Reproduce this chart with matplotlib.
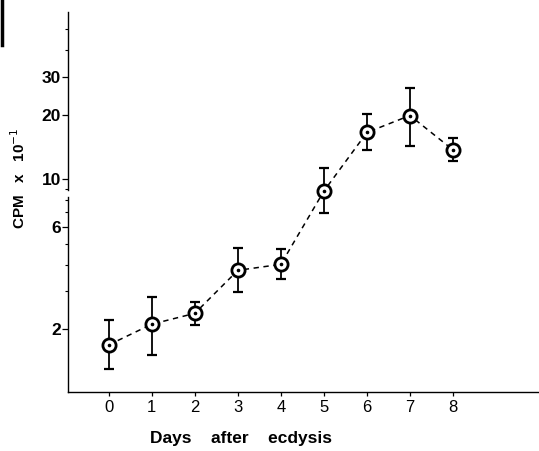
import matplotlib
matplotlib.use('Agg')
from matplotlib import pyplot as plt
from matplotlib.ticker import FixedLocator, NullFormatter
import numpy as np

plt.rcParams['font.family'] = ['Liberation Sans', 'DejaVu Sans']

# Counts per minute (x 10^-1) by day after ecdysis, with error bar limits
days = [0, 1, 2, 3, 4, 5, 6, 7, 8]
cpm = [1.69, 2.11, 2.37, 3.76, 4.01, 8.8, 16.5, 19.8, 13.7]
cpm_high = [2.2, 2.82, 2.67, 4.76, 4.71, 11.3, 20.2, 26.7, 15.6]
cpm_low = [1.30, 1.51, 2.09, 2.97, 3.42, 6.94, 13.7, 14.3, 12.1]

y_major = [2, 6, 10, 20, 30]
y_minor = [3, 4, 5, 7, 8, 9, 40, 50]

cpm = np.array(cpm)
yerr = [cpm - np.array(cpm_low), np.array(cpm_high) - cpm]

fig = plt.figure(figsize=(5.39, 4.51), dpi=100)
ax = fig.add_axes([0.126, 0.131, 0.874, 0.842])

ax.errorbar(days, cpm, yerr=yerr, fmt='none', ecolor='black',
            elinewidth=1.3, capsize=3.5, capthick=1.6, zorder=2)
ax.plot(days, cpm, linestyle=(0, (3.5, 3)), color='black', linewidth=1.1, zorder=1)
ax.plot(days, cpm, linestyle='none', marker='o', markersize=9.5,
        markerfacecolor='white', markeredgecolor='black',
        markeredgewidth=2.0, zorder=3)
ax.plot(days, cpm, linestyle='none', marker='o', markersize=1.6,
        color='black', zorder=4)

ax.set_yscale('log')
ax.set_ylim(1.02, 60)
ax.set_xlim(-0.95, 10)

ax.yaxis.set_major_locator(FixedLocator(y_major))
ax.yaxis.set_minor_locator(FixedLocator(y_minor))
ax.yaxis.set_minor_formatter(NullFormatter())
ax.set_yticklabels([str(v) for v in y_major], fontsize=12.5, fontweight='bold')
ax.set_xticks(days)
ax.set_xticklabels([str(d) for d in days], fontsize=12)

ax.tick_params(axis='y', which='major', direction='out', length=4, width=0.9, pad=1)
ax.tick_params(axis='y', which='minor', direction='out', length=2.5, width=0.8)
ax.tick_params(axis='x', direction='out', length=3, width=0.9, pad=3)

for side in ['top', 'right', 'left']:
    ax.spines[side].set_visible(False)
ax.spines['bottom'].set_linewidth(1.0)

# left axis drawn in two pieces with a break just under 10
ytr = ax.get_yaxis_transform()
ax.plot([0, 0], [1.02, 8.3], color='black', linewidth=1.0, transform=ytr, clip_on=False)
ax.plot([0, 0], [8.9, 60], color='black', linewidth=1.0, transform=ytr, clip_on=False)

ax.set_xlabel('Days    after    ecdysis', fontsize=12.5, fontweight='bold')
ax.xaxis.set_label_coords(0.367, -0.102)
ax.set_ylabel('CPM   x   10$^{-1}$', fontsize=11, fontweight='bold')
ax.yaxis.set_label_coords(-0.084, 0.562)

# dark edge mark at the top left of the sheet
fig.add_artist(plt.Line2D([0.003, 0.003], [0.90, 1.0], color='black', linewidth=2.5))

fig.savefig('out.png', dpi=100)
